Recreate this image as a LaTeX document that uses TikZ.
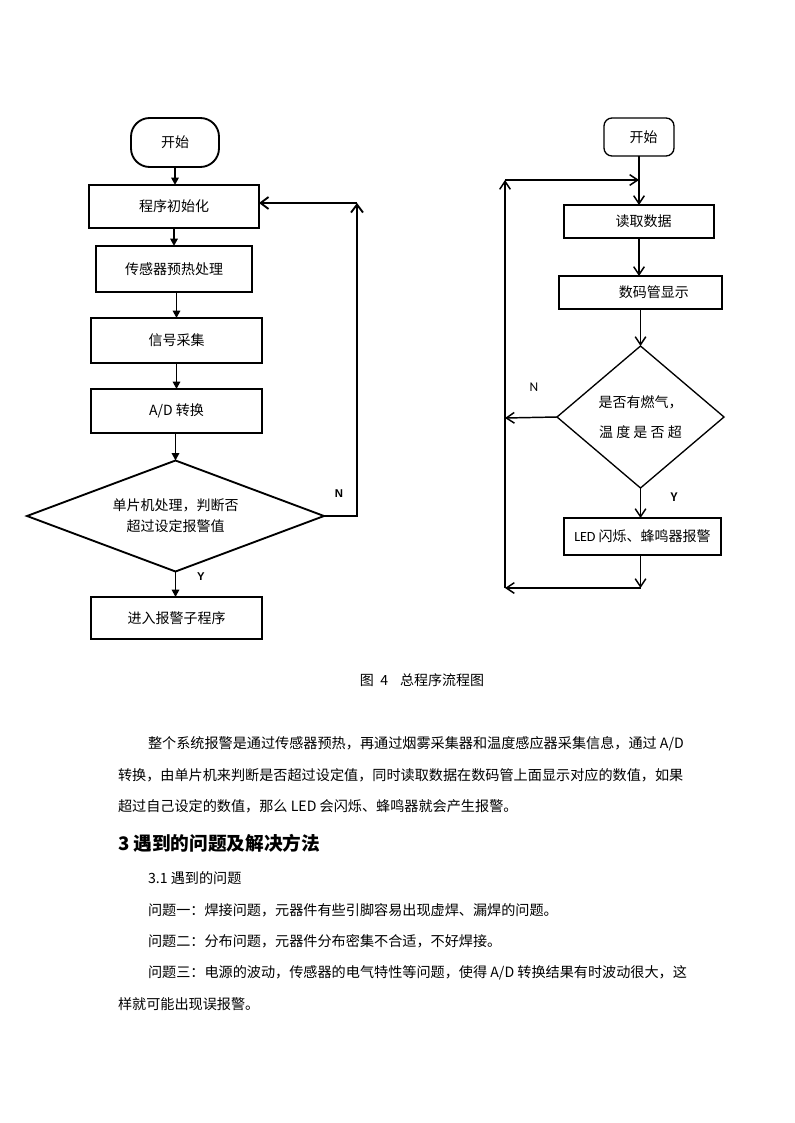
\documentclass[tikz,border=0pt]{standalone}
\usepackage{fontspec}
\setmainfont{Noto Sans CJK SC}
\newfontfamily\lat{Liberation Sans}
\newfontfamily\carl{Carlito}
\usetikzlibrary{arrows.meta,shapes.geometric}
\begin{document}
\begin{tikzpicture}[x=0.75pt,y=-0.75pt,
  every node/.style={font=\fontsize{10.5}{13}\selectfont, inner sep=0pt, outer sep=0pt},
  lbox/.style={draw, line width=1.4pt},
  rbox/.style={draw, line width=1pt},
  larr/.style={line width=1.4pt, -{Triangle[length=5.5pt,width=5.5pt]}},
  lopen/.style={line width=1.4pt, -{Straight Barb[length=6pt,width=9pt]}},
  ropen/.style={line width=1.1pt, -{Straight Barb[length=6pt,width=8pt]}},
  llab/.style={font=\lat\bfseries\fontsize{8.5}{9}\selectfont},
  rlab/.style={font=\carl\fontsize{10}{11}\selectfont},
  rlabb/.style={font=\carl\bfseries\fontsize{10}{11}\selectfont},
  body/.style={anchor=west, font=\fontsize{10.6}{13}\selectfont}
]
\useasboundingbox (0,0) rectangle (794,1123);

% ---------------- left flowchart ----------------
\node[lbox, rounded corners=14pt, minimum width=66pt, minimum height=36.75pt] (s1) at (175,142.5) {开始};
\node[lbox, minimum width=127.5pt, minimum height=32.25pt] (init) at (174,206.5) {程序初始化};
\node[lbox, minimum width=117pt, minimum height=34.5pt] (pre) at (174,269) {传感器预热处理};
\node[lbox, minimum width=128.25pt, minimum height=33.75pt] (sig) at (176.5,340.5) {信号采集};
\node[lbox, minimum width=128.25pt, minimum height=33pt] (ad) at (176.5,411) {A/D 转换};
\node[lbox, diamond, shape aspect=2.7, minimum width=222.75pt, minimum height=83.25pt, align=center] (d1) at (175.5,516) {单片机处理，判断否\\[3pt]超过设定报警值};
\node[lbox, minimum width=128.25pt, minimum height=31.5pt] (alarm) at (176.5,618) {进入报警子程序};

\draw[larr] (s1.south) -- (s1.south |- init.north);
\draw[larr] (init.south) -- (init.south |- pre.north);
\draw[larr] (sig.north |- pre.south) -- (sig.north);
\draw[larr] (sig.south) -- (sig.south |- ad.north);
\draw[larr] (d1.north |- ad.south) -- (d1.north);
\draw[larr] (d1.south) -- (d1.south |- alarm.north);

\coordinate (n1) at (357,203);
\draw[lopen] (d1.east) -| (n1);
\draw[lopen] (n1) -- (init.east |- n1);
\node[llab] (nlab) at (339,494) {N};
\node[llab] (ylab) at (201,577) {Y};

% ---------------- right flowchart ----------------
\node[rbox, rounded corners=6pt, minimum width=52.5pt, minimum height=28.5pt] (s2) at (639,137) {\hspace*{7pt}开始};
\node[rbox, minimum width=112.5pt, minimum height=24.75pt] (read) at (639,221.5) {\hspace*{7pt}读取数据};
\node[rbox, minimum width=122.25pt, minimum height=24.75pt] (disp) at (640.5,292.5) {\hspace*{20pt}数码管显示};
\node[rbox, diamond, shape aspect=1.18, minimum width=125.25pt, minimum height=106.5pt, align=center] (d2) at (640.5,417) {是否有燃气，\\[10pt]温 度 是 否 超};
\node[rbox, minimum width=117.75pt, minimum height=27.75pt] (led) at (642.5,536.5) {{\carl LED} 闪烁、蜂鸣器报警};

\coordinate (tl) at (505,180);
\coordinate (tr) at (639,180);
\coordinate (bot) at (640.5,588);
\coordinate (bl) at (505,588);
\coordinate (nl) at (505,418);

\draw[ropen] (s2.south) -- (s2.south |- read.north);
\draw[ropen] (read.south) -- (read.south |- disp.north);
\draw[ropen] (d2.north |- disp.south) -- (d2.north);
\draw[ropen] (d2.south) -- (d2.south |- led.north);
\draw[ropen] (d2.west) -- (nl);
\draw[ropen] (d2.south |- led.south) -- (bot);
\draw[ropen] (bot) -- (bl);
\draw[ropen] (bl) -- (tl);
\draw[ropen] (tl) -- (tr);
\node[rlab] (nlab2) at (534,387) {N};
\node[rlabb] (ylab2) at (674,497) {Y};

% ---------------- caption and text ----------------
\node (cap) at (422,680) {图\hspace{5pt}4\hspace{9pt}总程序流程图};

\node[body] (p1) at (148,744) {整个系统报警是通过传感器预热，再通过烟雾采集器和温度感应器采集信息，通过 A/D};
\node[body] (p2) at (118,775) {转换，由单片机来判断是否超过设定值，同时读取数据在数码管上面显示对应的数值，如果};
\node[body] (p3) at (118,806) {超过自己设定的数值，那么 LED 会闪烁、蜂鸣器就会产生报警。};
\node[body, font=\bfseries\fontsize{14}{16}\selectfont] (h3) at (118,843) {3 遇到的问题及解决方法};
\node[body] (s31) at (148,878) {3.1 遇到的问题};
\node[body] (q1) at (148,910) {问题一：焊接问题，元器件有些引脚容易出现虚焊、漏焊的问题。};
\node[body] (q2) at (148,941) {问题二：分布问题，元器件分布密集不合适，不好焊接。};
\node[body] (q3) at (148,973) {问题三：电源的波动，传感器的电气特性等问题，使得 A/D 转换结果有时波动很大，这};
\node[body] (q3b) at (118,1004) {样就可能出现误报警。};
\end{tikzpicture}
\end{document}
